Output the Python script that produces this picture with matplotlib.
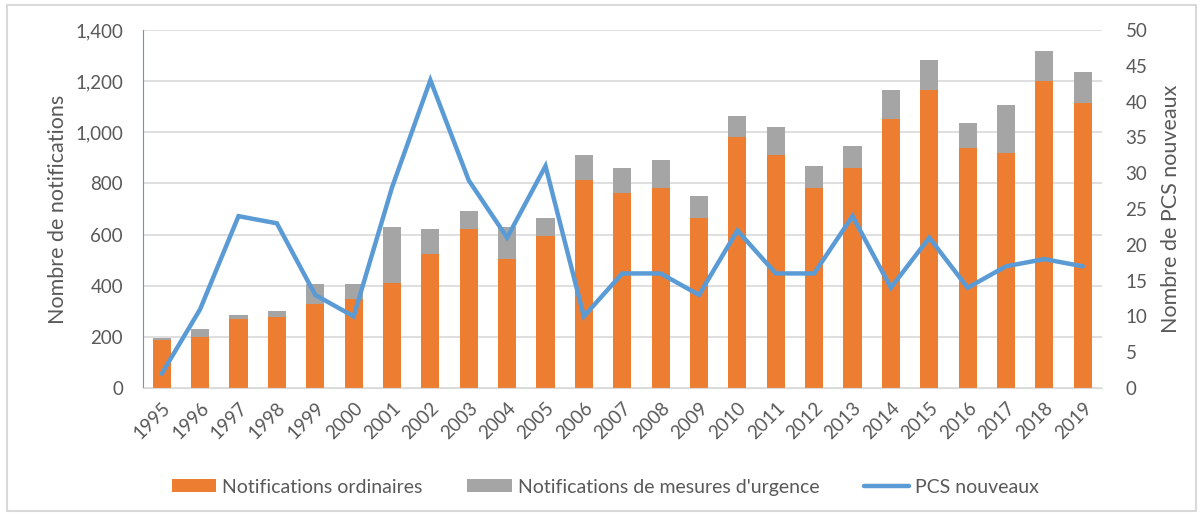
import numpy as np
import matplotlib
matplotlib.use('Agg')
import matplotlib.pyplot as plt
from matplotlib.patches import Rectangle

plt.rcParams['font.family'] = ['Lato', 'DejaVu Sans']

years = [str(y) for y in range(1995, 2020)]
ordinaires = [189, 200, 270, 278, 328, 350, 411, 525, 623, 503, 595, 812,
              764, 783, 666, 980, 910, 783, 862, 1051, 1164, 940, 918, 1200, 1114]
totales = [196, 230, 286, 300, 406, 406, 629, 623, 693, 629, 664, 911,
           862, 890, 749, 1065, 1022, 869, 946, 1164, 1283, 1037, 1107, 1318, 1235]
urgence = [t - o for t, o in zip(totales, ordinaires)]
pcs = [2, 11, 24, 23, 13, 10, 28, 43, 29, 21, 31, 10,
       16, 16, 13, 22, 16, 16, 24, 14, 21, 14, 17, 18, 17]

orange = '#ED7D31'
grey = '#A5A5A5'
blue = '#5B9BD5'
txt = '#595959'

fig = plt.figure(figsize=(12.03, 5.17), dpi=100)
fig.patches.append(Rectangle((0.006, 0.012), 0.988, 0.978, transform=fig.transFigure,
                             fill=False, edgecolor='#D9D9D9', linewidth=1.5))
ax = fig.add_axes([0.1185, 0.2495, 0.7975, 0.6925])
x = np.arange(len(years))
b1 = ax.bar(x, ordinaires, width=0.47, color=orange, label='Notifications ordinaires', zorder=2)
b2 = ax.bar(x, urgence, width=0.47, bottom=ordinaires, color=grey,
            label="Notifications de mesures d'urgence", zorder=2)
ax.set_ylim(0, 1400)
ax.set_xlim(-0.5, len(years) - 0.5)
ax.set_yticks(np.arange(0, 1401, 200))
ax.set_yticklabels(['{:,}'.format(v) for v in range(0, 1401, 200)])
ax.grid(axis='y', color='#D9D9D9', linewidth=1.2, zorder=0)
ax.set_axisbelow(True)
ax.set_xticks(x)
ax.set_xticklabels(years, rotation=45, ha='right', rotation_mode='anchor')
ax.tick_params(axis='both', length=0, colors=txt, labelsize=13.5)
ax.tick_params(axis='x', pad=8)
ax.tick_params(axis='y', pad=14)
ax.set_ylabel('Nombre de notifications', color=txt, fontsize=15.5, labelpad=5)
for s in ['top', 'right']:
    ax.spines[s].set_visible(False)
ax.spines['bottom'].set_color('#D9D9D9')
ax.spines['left'].set_color(blue)

ax2 = ax.twinx()
l1, = ax2.plot(x, pcs, color=blue, linewidth=3.2, label='PCS nouveaux',
               solid_joinstyle='miter', solid_capstyle='round', zorder=3)
ax2.set_ylim(0, 50)
ax2.set_yticks(np.arange(0, 51, 5))
ax2.tick_params(axis='y', length=0, colors=txt, labelsize=13.5, pad=17)
ax2.set_ylabel('Nombre de PCS nouveaux', color=txt, fontsize=15.5, labelpad=10)
for s in ['top', 'right', 'left', 'bottom']:
    ax2.spines[s].set_visible(False)

fig.legend(handles=[b1, b2, l1], loc='center', bbox_to_anchor=(0.503, 0.058), ncol=3,
           frameon=False, fontsize=14, labelcolor=txt, handlelength=2.3,
           handleheight=0.65, handletextpad=0.3, columnspacing=2.3)

fig.savefig('out.png', dpi=100)
